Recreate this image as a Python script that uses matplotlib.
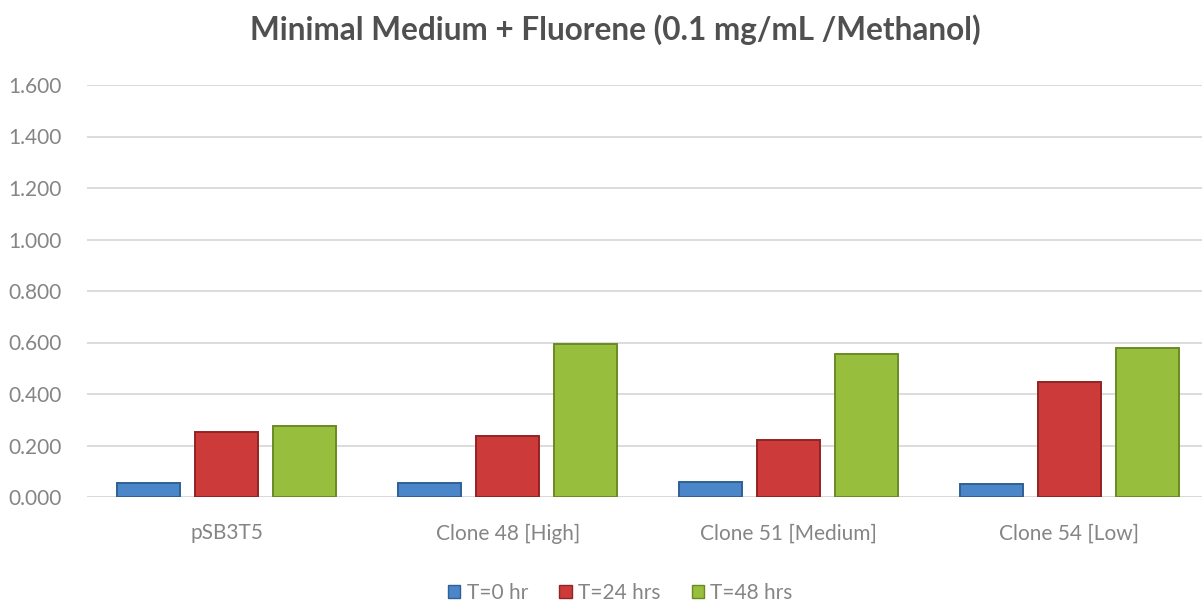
import numpy as np
import matplotlib.pyplot as plt
from matplotlib.patches import Patch

categories = ["pSB3T5", "Clone 48 [High]", "Clone 51 [Medium]", "Clone 54 [Low]"]
series_names = ["T=0 hr", "T=24 hrs", "T=48 hrs"]
t0 = [0.056, 0.053, 0.059, 0.050]
t24 = [0.254, 0.237, 0.221, 0.448]
t48 = [0.276, 0.594, 0.555, 0.577]
yticks = [0.0, 0.2, 0.4, 0.6, 0.8, 1.0, 1.2, 1.4, 1.6]

colors = ["#4a86c8", "#cc3a3a", "#97be3c"]
edges = ["#2f5f95", "#932424", "#6a8a24"]

plt.rcParams['font.family'] = ['Lato', 'DejaVu Sans']

fig = plt.figure(figsize=(12.02, 6.07), dpi=100)
# plot area runs a little past the right edge of the picture, as in the reference
ax = fig.add_axes([86.5 / 1202, 110 / 607, 1123 / 1202, 412 / 607])

x = np.arange(len(categories))
w = 0.224
step = 0.278
for i, vals in enumerate([t0, t24, t48]):
    ax.bar(x + (i - 1) * step, vals, width=w, color=colors[i], edgecolor=edges[i],
           linewidth=1.4, label=series_names[i], zorder=3)

ax.set_xlim(-0.5, 3.5)
ax.set_ylim(0, 1.6)
ax.set_yticks(yticks)
ax.set_yticklabels([f"{v:.3f}" for v in yticks])
ax.set_xticks(x)
ax.set_xticklabels(categories)
ax.tick_params(axis='both', length=0, labelsize=15, colors='#858585')
ax.tick_params(axis='y', pad=18)
ax.tick_params(axis='x', pad=19)
ax.grid(axis='y', color='#d9d9d9', linewidth=1.3, zorder=0)
for s in ax.spines.values():
    s.set_visible(False)
ax.axhline(0, color='#d9d9d9', linewidth=1.3, zorder=1)

fig.text(0.5116, 0.952, "Minimal Medium + Fluorene (0.1 mg/mL /Methanol)", ha='center', va='center',
         fontsize=22.7, color='#505050', fontweight='bold')

handles = [Patch(facecolor=colors[i], edgecolor=edges[i]) for i in range(3)]
fig.legend(handles, series_names, loc='center', bbox_to_anchor=(0.516, 0.023), ncol=3, frameon=False,
           fontsize=15, labelcolor='#858585', handlelength=0.6, handleheight=0.6, handletextpad=0.3,
           columnspacing=1.5)

fig.savefig("out.png", dpi=100)
